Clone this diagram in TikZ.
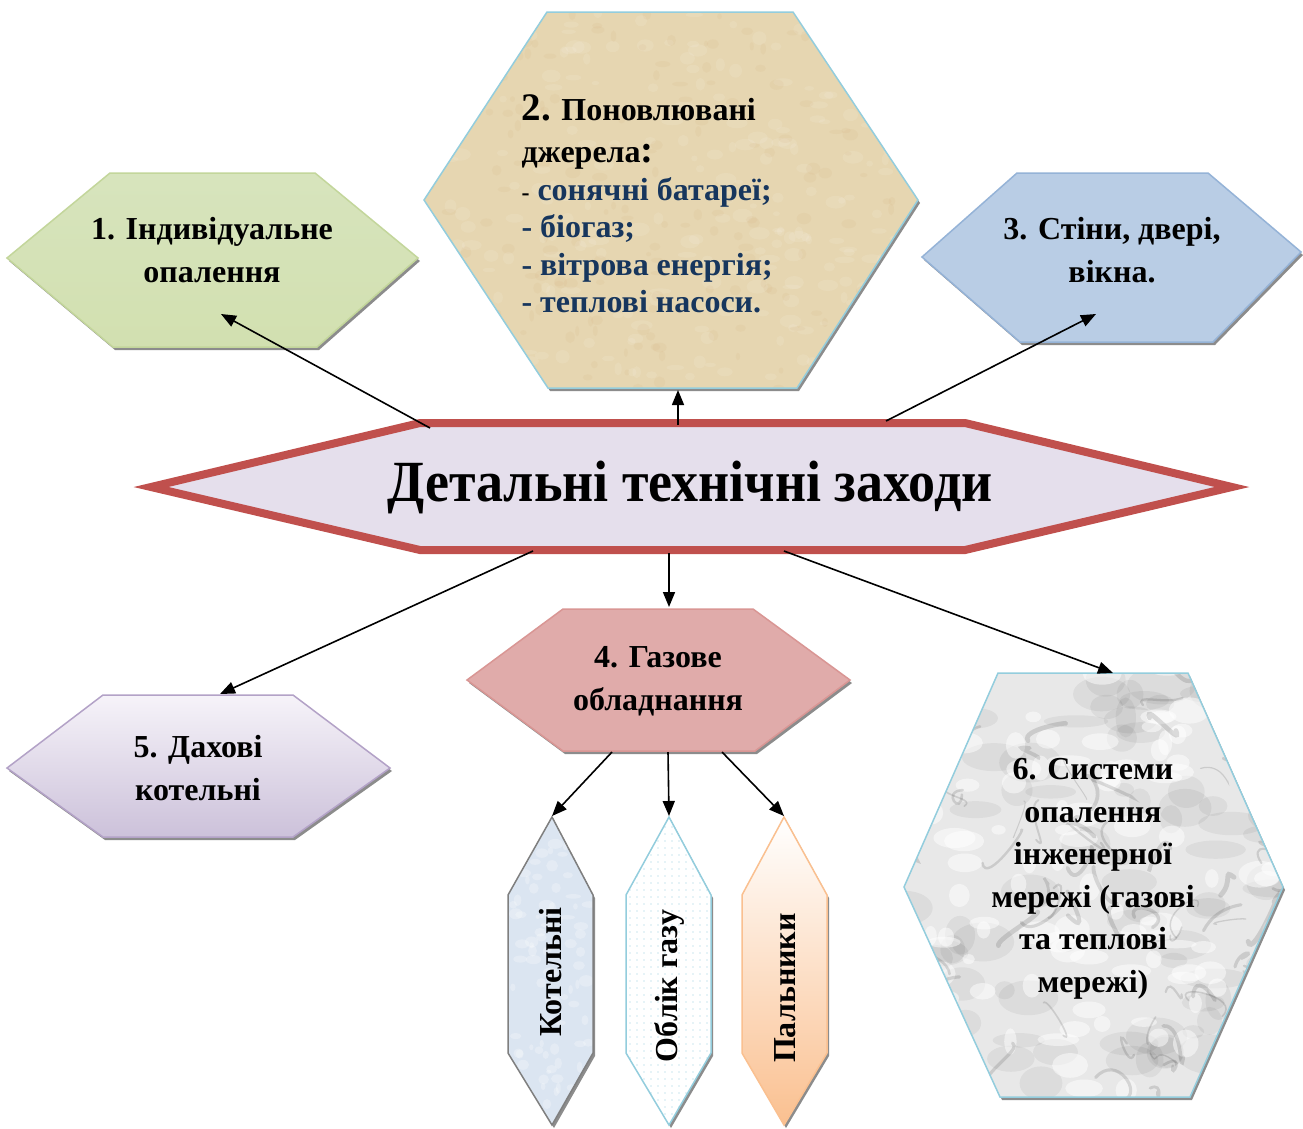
\documentclass[tikz,border=0pt]{standalone}
\usepackage{fontspec}
\setmainfont{Liberation Serif}
\usetikzlibrary{arrows.meta,patterns.meta}
\definecolor{mainred}{HTML}{C0504D}
\definecolor{mainfill}{HTML}{E5DFEC}
\definecolor{gB}{HTML}{C3D69B}
\definecolor{gT}{HTML}{D7E4BD}
\definecolor{gM}{HTML}{F0F5E6}
\definecolor{gD}{HTML}{D2E0B0}
\definecolor{bB}{HTML}{95B3D7}
\definecolor{bD}{HTML}{B9CDE5}
\definecolor{bL}{HTML}{DFE8F3}
\definecolor{pB}{HTML}{D99694}
\definecolor{pD}{HTML}{E0ABAA}
\definecolor{pL}{HTML}{F3E0DF}
\definecolor{lB}{HTML}{B3A2C7}
\definecolor{lD}{HTML}{CCC1DA}
\definecolor{lL}{HTML}{F6F3F9}
\definecolor{aqua}{HTML}{93CDDD}
\definecolor{tan}{HTML}{E6D6B1}
\definecolor{marble}{HTML}{E8E8E8}
\definecolor{navy}{HTML}{17365D}
\definecolor{peach}{HTML}{FAC090}
\definecolor{iceblue}{HTML}{DBE5F1}
\definecolor{kgray}{HTML}{7F7F7F}
\tikzset{
  conn/.style={line width=1.6pt, -{Triangle[length=15pt,width=12pt]}},
  lbl/.style={font=\bfseries\fontsize{32}{42.5}\selectfont, align=center, text=black},
  vlbl/.style={font=\bfseries\fontsize{32}{36}\selectfont, rotate=90, text=black},
  shadowp/.style={fill=black!45},
  edge1/.style={line width=1.5pt},
}
\begin{document}
\begin{tikzpicture}[x=1pt,y=-1pt]
\useasboundingbox (0,0) rectangle (1303,1128);
\fill[white] (0,0) rectangle (1303,1128);

% ---------- node 1 (green)
\fill[shadowp, shift={(2,3)}] (7,258)--(110,173)--(315,173)--(418,258)--(317,347)--(113,347)--cycle;
\path[draw=gB, edge1, top color=gT, middle color=gM, bottom color=gD]
  (7,258)--(110,173)--(315,173)--(418,258)--(317,347)--(113,347)--cycle;
\node[lbl] (t1) at (212,250) {1. Індивідуальне\\опалення};

% ---------- node 2 (tan)
\fill[shadowp, shift={(2,3)}] (424,200)--(547,12)--(793,12)--(918,200)--(797,388)--(548,388)--cycle;
\fill[tan] (424,200)--(547,12)--(793,12)--(918,200)--(797,388)--(548,388)--cycle;
\begin{scope}
  \clip (424,200)--(547,12)--(793,12)--(918,200)--(797,388)--(548,388)--cycle;
  \pgfmathsetseed{7}
  \foreach \i in {1,...,260}{
    \fill[white, opacity=0.10] ({671+250*rand},{200+190*rand}) ellipse ({3+8*rnd} and {2+5*rnd});
  }
  \foreach \i in {1,...,200}{
    \fill[brown!70!tan, opacity=0.08] ({671+250*rand},{200+190*rand}) ellipse ({2+6*rnd} and {2+4*rnd});
  }
\end{scope}
\draw[aqua, edge1] (424,200)--(547,12)--(793,12)--(918,200)--(797,388)--(548,388)--cycle;
\node[anchor=west, align=left, font=\bfseries\fontsize{32}{37.5}\selectfont] (t2) at (518,204)
  {{\fontsize{39}{40}\selectfont 2.} Поновлювані\\[5pt]
   джерела{\fontsize{39}{40}\selectfont :}\\
   {\fontsize{24}{37.5}\selectfont -} \textcolor{navy}{сонячні батареї;}\\
   \textcolor{navy}{- біогаз;}\\
   \textcolor{navy}{- вітрова енергія;}\\
   \textcolor{navy}{- теплові насоси.}};

% ---------- node 3 (blue)
\fill[shadowp, shift={(2,3)}] (922,257)--(1017,173)--(1208,173)--(1301,252)--(1213,342)--(1020,342)--cycle;
\path[draw=bB, edge1, top color=bD, middle color=bL, bottom color=bD]
  (922,257)--(1017,173)--(1208,173)--(1301,252)--(1213,342)--(1020,342)--cycle;
\node[lbl] (t3) at (1112,250) {3. Стіни, двері,\\вікна.};

% ---------- main node
\path[draw=mainred, line width=8pt, fill=mainfill, line join=miter]
  (151,487)--(420,423)--(965,423)--(1232,487)--(965,550)--(420,550)--cycle;
\node[font=\bfseries\fontsize{54}{60}\selectfont, yscale=1.08] (tm) at (690,487) {Детальні технічні заходи};

% ---------- node 4 (pink)
\fill[shadowp, shift={(2,3)}] (467,680)--(563,609)--(753,609)--(850,680)--(755,751)--(563,751)--cycle;
\path[draw=pB, edge1, top color=pD, middle color=pL, bottom color=pD]
  (467,680)--(563,609)--(753,609)--(850,680)--(755,751)--(563,751)--cycle;
\node[lbl] (t4) at (658,681) {4. Газове\\обладнання};

% ---------- node 5 (lavender)
\fill[shadowp, shift={(2,3)}] (7,768)--(103,695)--(293,695)--(390,768)--(293,837)--(103,837)--cycle;
\path[draw=lB, edge1, top color=lL, bottom color=lD]
  (7,768)--(103,695)--(293,695)--(390,768)--(293,837)--(103,837)--cycle;
\node[lbl] (t5) at (198,768) {5. Дахові\\котельні};

% ---------- node 6 (marble)
\fill[shadowp, shift={(2,3)}] (904,887)--(998,673)--(1188,673)--(1283,887)--(1190,1097)--(1000,1097)--cycle;
\fill[marble] (904,887)--(998,673)--(1188,673)--(1283,887)--(1190,1097)--(1000,1097)--cycle;
\begin{scope}
  \clip (904,887)--(998,673)--(1188,673)--(1283,887)--(1190,1097)--(1000,1097)--cycle;
  \pgfmathsetseed{11}
  \foreach \i in {1,...,90}{
    \fill[black, opacity=0.05] ({1093+190*rand},{885+215*rand}) ellipse ({10+25*rnd} and {6+14*rnd});
  }
  \foreach \i in {1,...,110}{
    \fill[white, opacity=0.5] ({1093+190*rand},{885+215*rand}) ellipse ({6+16*rnd} and {4+10*rnd});
  }
  \foreach \i in {1,...,70}{
    \draw[black, opacity=0.12, line width={1+4*rnd}, line cap=round]
      ({1093+190*rand},{885+215*rand}) .. controls +({25*rand},{25*rand}) and +({25*rand},{25*rand}) .. +({40*rand},{40*rand});
  }
\end{scope}
\draw[aqua, edge1] (904,887)--(998,673)--(1188,673)--(1283,887)--(1190,1097)--(1000,1097)--cycle;
\node[lbl] (t6) at (1093,879) {6. Системи\\опалення\\інженерної\\мережі (газові\\та теплові\\мережі)};

% ---------- vertical nodes
\fill[shadowp, shift={(2,3)}] (552,817)--(593,895)--(593,1053)--(552,1125)--(508,1053)--(508,895)--cycle;
\fill[iceblue] (552,817)--(593,895)--(593,1053)--(552,1125)--(508,1053)--(508,895)--cycle;
\begin{scope}
  \clip (552,817)--(593,895)--(593,1053)--(552,1125)--(508,1053)--(508,895)--cycle;
  \pgfmathsetseed{3}
  \foreach \i in {1,...,90}{
    \fill[white, opacity=0.25] ({551+45*rand},{970+150*rand}) ellipse ({2+6*rnd} and {2+4*rnd});
  }
\end{scope}
\draw[kgray, edge1] (552,817)--(593,895)--(593,1053)--(552,1125)--(508,1053)--(508,895)--cycle;
\node[vlbl] (v1) at (551,972) {Котельні};

\fill[shadowp, shift={(2,3)}] (669,817)--(711,895)--(711,1053)--(669,1125)--(626,1053)--(626,895)--cycle;
\fill[white] (669,817)--(711,895)--(711,1053)--(669,1125)--(626,1053)--(626,895)--cycle;
\fill[pattern={Dots[distance=7pt,radius=0.7pt]}, pattern color=aqua]
  (669,817)--(711,895)--(711,1053)--(669,1125)--(626,1053)--(626,895)--cycle;
\draw[aqua, edge1] (669,817)--(711,895)--(711,1053)--(669,1125)--(626,1053)--(626,895)--cycle;
\node[vlbl] (v2) at (669,986) {Облік газу};

\fill[shadowp, shift={(2,3)}] (784,817)--(827,895)--(827,1053)--(784,1125)--(742,1053)--(742,895)--cycle;
\path[draw=peach, edge1, top color=white, bottom color=peach]
  (784,817)--(827,895)--(827,1053)--(784,1125)--(742,1053)--(742,895)--cycle;
\node[vlbl] (v3) at (785,988) {Пальники};

% ---------- connector end points
\coordinate (m1) at (430,428);
\coordinate (e1) at (221,314);
\coordinate (m2) at (678,425);
\coordinate (e2) at (678,390);
\coordinate (m3) at (886,421);
\coordinate (e3) at (1096,314);
\coordinate (m5) at (533,551);
\coordinate (e5) at (220,694);
\coordinate (m4) at (669,553);
\coordinate (e4) at (669,607);
\coordinate (m6) at (784,551);
\coordinate (e6) at (1113,673);
\coordinate (g1) at (612,752);
\coordinate (k1) at (552,816);
\coordinate (g2) at (668,752);
\coordinate (k2) at (669,816);
\coordinate (g3) at (722,752);
\coordinate (k3) at (784,816);

\draw[conn] (m1) -- (e1);
\draw[conn] (m2) -- (e2);
\draw[conn] (m3) -- (e3);
\draw[conn] (m5) -- (e5);
\draw[conn] (m4) -- (e4);
\draw[conn] (m6) -- (e6);
\draw[conn] (g1) -- (k1);
\draw[conn] (g2) -- (k2);
\draw[conn] (g3) -- (k3);
\end{tikzpicture}
\end{document}
